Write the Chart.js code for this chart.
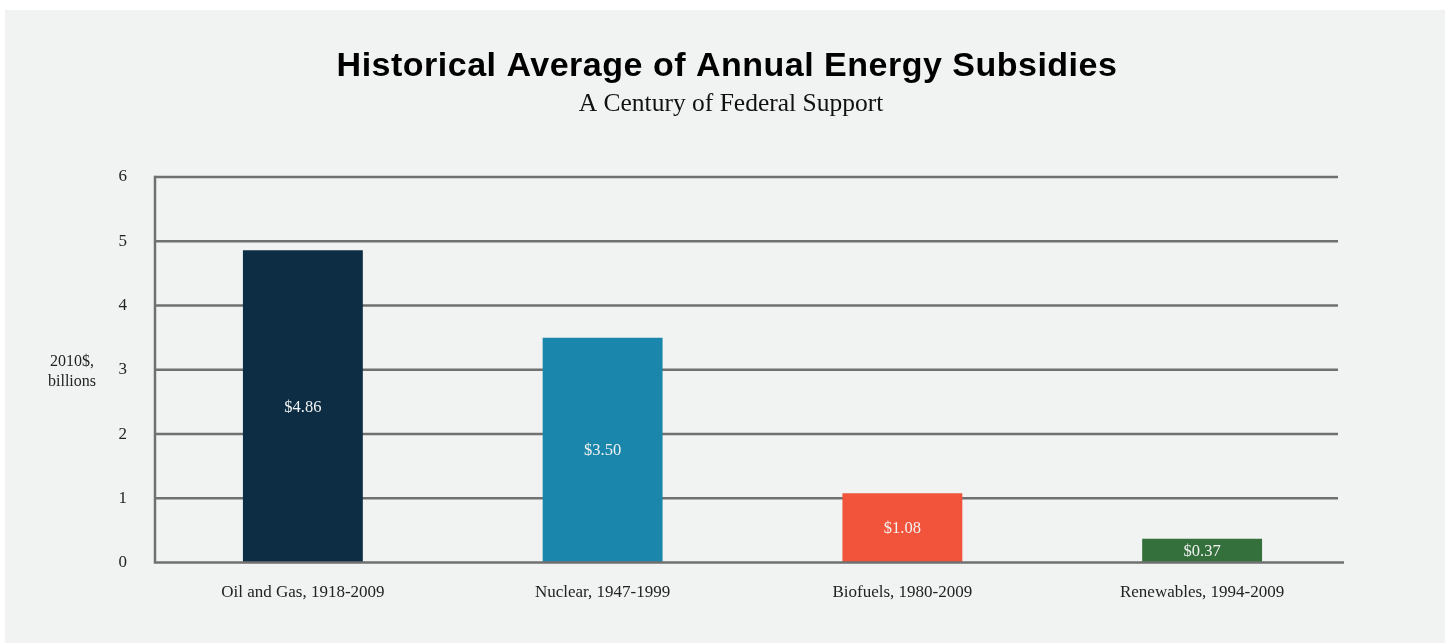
<!DOCTYPE html>
<html>
<head>
<meta charset="utf-8">
<script src="https://cdn.jsdelivr.net/npm/chart.js@4.4.0/dist/chart.umd.min.js"></script>
<style>
  html, body { margin: 0; padding: 0; background: #ffffff; }
  #panel { position: absolute; left: 5px; top: 10px; width: 1440px; height: 633px; background: #f1f3f2; }
  canvas { display: block; }
</style>
</head>
<body>
<div id="panel"><canvas id="c" width="1440" height="633"></canvas></div>
<script>
const categories = ["Oil and Gas, 1918-2009", "Nuclear, 1947-1999", "Biofuels, 1980-2009", "Renewables, 1994-2009"];
const subsidies = [4.86, 3.50, 1.08, 0.37];
const valueLabels = ["$4.86", "$3.50", "$1.08", "$0.37"];
const barColors = ["#0c2d44", "#1a86ab", "#f1543a", "#34703c"];
const yTicks = [0, 1, 2, 3, 4, 5, 6];
const titleText = "Historical Average of Annual Energy Subsidies";
const subtitleText = "A Century of Federal Support";
const yTitleLines = ["2010$,", "billions"];

const SERIF = "'Liberation Serif', 'DejaVu Serif', serif";
const SANS = "'Liberation Sans', Arial, sans-serif";
const GRID = "#707070";

const decor = {
  id: 'decor',
  beforeDatasetsDraw(chart) {
    const ctx = chart.ctx, y = chart.scales.y, a = chart.chartArea;
    ctx.save();
    ctx.strokeStyle = GRID;
    ctx.lineWidth = 2.5;
    const gl = a.left + 2, gr = a.right - 14;
    yTicks.forEach(v => {
      if (v === 0) return;
      const py = y.getPixelForValue(v);
      ctx.beginPath(); ctx.moveTo(gl, py); ctx.lineTo(gr, py); ctx.stroke();
    });
    ctx.restore();
  },
  afterDatasetsDraw(chart) {
    const ctx = chart.ctx, y = chart.scales.y, a = chart.chartArea;
    ctx.save();
    ctx.strokeStyle = GRID;
    ctx.lineWidth = 2.5;
    const gl = a.left + 2, gr = a.right - 8;
    const y0 = y.getPixelForValue(0), y6 = y.getPixelForValue(6);
    ctx.beginPath(); ctx.moveTo(gl, y6 - 1.25); ctx.lineTo(gl, y0); ctx.lineTo(gr, y0); ctx.stroke();
    // value labels
    const meta = chart.getDatasetMeta(0);
    ctx.fillStyle = "#f2f2f2";
    ctx.font = "16.5px " + SERIF;
    ctx.textAlign = "center";
    ctx.textBaseline = "middle";
    meta.data.forEach((bar, i) => {
      ctx.fillText(valueLabels[i], bar.x, (bar.y + bar.base) / 2 + 1);
    });
    // titles
    ctx.fillStyle = "#000000";
    ctx.font = "bold 34px " + SANS;
    ctx.letterSpacing = "0.5px";
    ctx.fillText(titleText, chart.width / 2 + 2, 57);
    ctx.letterSpacing = "0px";
    ctx.fillStyle = "#111111";
    ctx.font = "25.5px " + SERIF;
    ctx.fillText(subtitleText, chart.width / 2 + 6, 94);
    // y axis title
    ctx.font = "16px " + SERIF;
    ctx.fillStyle = "#222222";
    const mid = (a.top + a.bottom) / 2;
    ctx.fillText(yTitleLines[0], 67, mid - 8);
    ctx.fillText(yTitleLines[1], 67, mid + 12);
    ctx.restore();
  }
};

new Chart(document.getElementById('c'), {
  type: 'bar',
  data: {
    labels: categories,
    datasets: [{
      data: subsidies,
      backgroundColor: barColors,
      borderWidth: 0,
      categoryPercentage: 1.0,
      barPercentage: 0.4
    }]
  },
  options: {
    responsive: false,
    animation: false,
    devicePixelRatio: 1,
    layout: { padding: { top: 167, bottom: 20, left: 48, right: 93 } },
    plugins: { legend: { display: false }, tooltip: { enabled: false }, title: { display: false } },
    scales: {
      x: {
        grid: { display: false, drawTicks: false },
        border: { display: false },
        ticks: { color: "#222222", font: { family: SERIF, size: 17 }, padding: 20, maxRotation: 0, autoSkip: false }
      },
      y: {
        min: 0, max: 6,
        afterFit(scale) { scale.width = 100; },
        grid: { display: false, drawTicks: false },
        border: { display: false },
        ticks: { stepSize: 1, color: "#222222", font: { family: SERIF, size: 17 }, padding: 26 }
      }
    }
  },
  plugins: [decor]
});
</script>
</body>
</html>
